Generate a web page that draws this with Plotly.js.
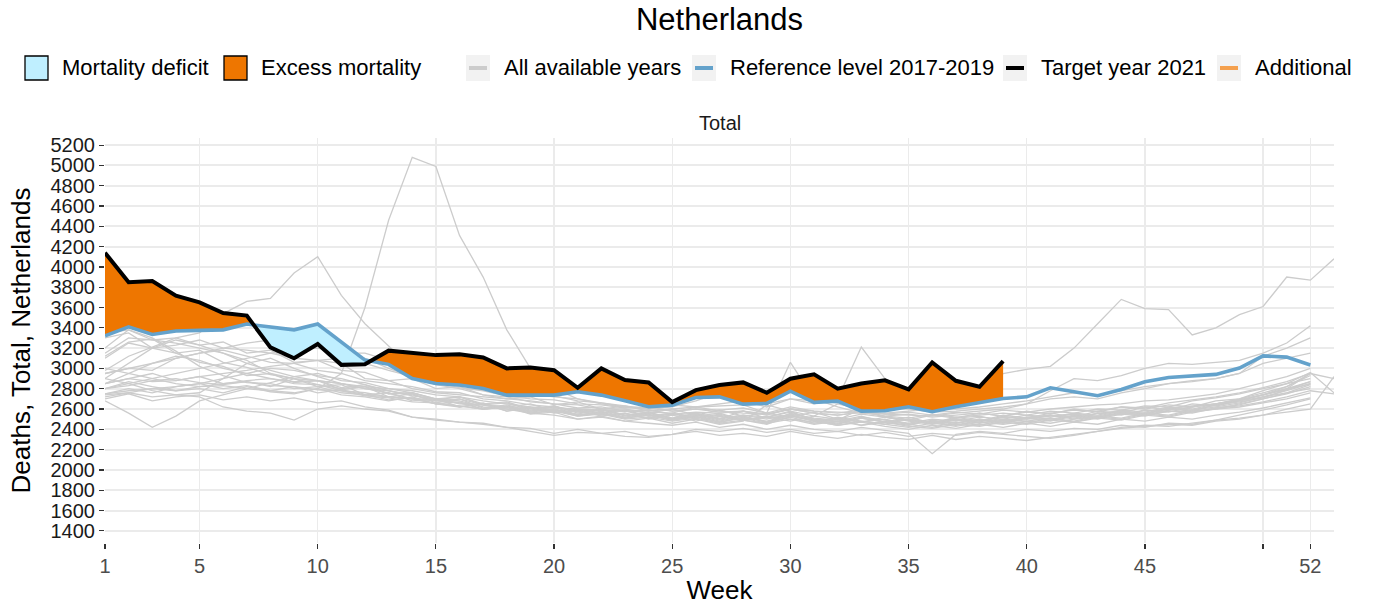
<!DOCTYPE html>
<html>
<head>
<meta charset="utf-8">
<script src="https://cdn.plot.ly/plotly-3.0.1.min.js"></script>
<style>html,body{margin:0;padding:0;background:#fff;}#chart{width:1381px;height:606px;}</style>
</head>
<body>
<div id="chart"></div>
<script>
// ---------------- DATA ----------------
const weeks52 = Array.from({length: 52}, (_, i) => i + 1);
const xTickVals = [1, 5, 10, 15, 20, 25, 30, 35, 40, 45, 50, 52];
const xTickText = ['1', '5', '10', '15', '20', '25', '30', '35', '40', '45', '', '52'];
const yTickVals = [1400,1600,1800,2000,2200,2400,2600,2800,3000,3200,3400,3600,3800,4000,4200,4400,4600,4800,5000,5200];
const yTickText = yTickVals.map(String);

// Target year 2021 (weeks 1-39)
const target2021 = [4140,3850,3860,3716,3650,3545,3520,3207,3100,3240,3035,3040,3175,3157,3131,3140,3108,3000,3010,2983,2809,3000,2885,2862,2668,2786,2836,2862,2760,2898,2941,2800,2852,2882,2793,3059,2878,2819,3072];

// Reference level 2017-2019 (weeks 1-52)
const reference = [3320,3410,3335,3368,3375,3380,3437,3410,3380,3437,3262,3082,3040,2901,2852,2836,2803,2737,2737,2737,2770,2737,2681,2622,2638,2713,2720,2648,2655,2776,2665,2678,2579,2583,2622,2573,2622,2661,2704,2720,2809,2770,2731,2793,2868,2911,2924,2941,3003,3124,3111,3033];

// All available years (grey)
const y1995 = [3120,3260,3290,3150,3180,3060,3010,2940,2900,2880,2810,2840,2750,2760,2690,2720,2640,2660,2590,2630,2560,2600,2540,2570,2500,2530,2560,2490,2520,2570,2500,2480,2530,2470,2500,2460,2520,2480,2540,2510,2560,2520,2580,2560,2620,2590,2650,2630,2680,2720,2760,2840];
const y1996 = [2980,3120,3210,3300,3230,3260,3150,3180,3060,3080,2980,2960,2880,2900,2800,2820,2740,2700,2720,2640,2670,2600,2630,2580,2600,2540,2590,2530,2560,2520,2570,2500,2550,2520,2490,2540,2510,2560,2530,2580,2550,2600,2570,2620,2600,2640,2620,2680,2700,2760,2820,2930];
const y1997 = [3300,3350,3200,3150,3060,3020,2930,2950,2860,2880,2790,2820,2720,2750,2660,2700,2610,2640,2580,2620,2540,2580,2520,2560,2500,2540,2480,2530,2470,2540,2490,2450,2510,2470,2520,2460,2500,2470,2530,2500,2540,2510,2560,2580,2550,2610,2590,2640,2670,2710,2790,2870];
const y1998 = [2800,2870,2820,2780,2800,2760,2820,2770,2750,2800,2740,2720,2680,2720,2650,2620,2660,2580,2610,2590,2550,2600,2530,2570,2510,2560,2500,2540,2520,2480,2530,2500,2470,2520,2490,2460,2510,2530,2480,2520,2540,2500,2560,2540,2590,2570,2620,2650,2700,2780,2850,2960,2760];
const y1999 = [2900,3050,3200,3280,3230,3150,3080,2950,2900,2820,2840,2740,2760,2680,2700,2620,2650,2580,2610,2560,2590,2530,2560,2500,2540,2480,2530,2490,2460,2560,2500,2470,2520,2490,2460,2500,2480,2520,2500,2540,2520,2560,2540,2590,2570,2620,2600,2650,2680,2740,2800,2950];
const y2000 = [3350,3380,3300,3170,3020,2930,2860,2850,2800,2820,2760,2740,2690,2710,2650,2670,2600,2630,2570,2600,2540,2570,2510,2550,2490,2530,2470,2520,2480,2540,2490,2460,2510,2470,2440,2490,2460,2500,2470,2520,2500,2540,2520,2570,2550,2600,2580,2640,2690,2740,2820,2950];
const y2001 = [2750,2800,2760,2820,2850,2800,2830,2780,2820,2760,2790,2740,2720,2700,2680,2700,2640,2620,2650,2580,2600,2560,2590,2530,2560,2510,2550,2490,2530,2500,2470,2520,2480,2450,2500,2470,2440,2490,2460,2510,2480,2530,2500,2550,2530,2580,2560,2610,2640,2700,2760,2800];
const y2002 = [2850,2900,2950,2880,2920,2850,2870,2820,2900,2840,2800,2820,2750,2760,2700,2720,2650,2670,2600,2630,2570,2590,2540,2560,2510,2550,2490,2530,2470,2520,2460,2500,2440,2480,2450,2420,2470,2440,2490,2460,2510,2480,2530,2510,2560,2540,2590,2620,2660,2720,2780,2850];
const y2003 = [2950,3000,2980,3100,3150,3180,3120,3060,3050,2980,2950,2880,2850,2820,2770,2760,2700,2680,2640,2620,2590,2560,2580,2530,2550,2510,2540,2490,2520,2580,2530,2650,2600,2520,2480,2450,2490,2460,2500,2480,2510,2470,2520,2500,2550,2530,2580,2600,2620,2660,2700,2760];
const y2004 = [2700,2750,2680,2720,2740,2690,2720,2680,2710,2660,2680,2620,2590,2520,2490,2470,2460,2420,2410,2360,2400,2360,2380,2330,2350,2380,2340,2360,2330,2380,2340,2310,2350,2320,2300,2340,2300,2330,2310,2290,2320,2350,2380,2410,2430,2450,2440,2480,2500,2540,2570,2600,2920];
const y2005 = [2680,2560,2420,2530,2680,2740,2800,2860,2920,2950,2880,2860,2800,2760,2700,2680,2620,2600,2560,2540,2500,2520,2480,2460,2440,2470,2420,2450,2400,2440,2400,2380,2420,2390,2360,2160,2350,2380,2360,2400,2380,2410,2400,2440,2420,2460,2450,2490,2540,2590,2640,2700];
const y2006 = [2750,2780,2800,2820,2850,2900,2950,3000,2980,2930,2900,2840,2780,2740,2680,2660,2600,2620,2550,2570,2500,2530,2480,2510,2460,2500,2450,2480,2640,2580,2480,2440,2470,2430,2400,2440,2410,2450,2420,2460,2430,2470,2450,2500,2480,2520,2500,2540,2570,2610,2660,2710];
const y2007 = [2900,2850,2780,2740,2720,2620,2580,2560,2490,2600,2630,2600,2580,2520,2500,2470,2450,2420,2380,2340,2370,2360,2330,2320,2350,2400,2380,2410,2370,2400,2360,2380,2340,2370,2330,2360,2340,2370,2350,2330,2310,2340,2380,2420,2440,2430,2460,2490,2510,2540,2600,2650];
const y2008 = [2720,2760,2800,2780,2820,2850,2880,2900,2870,2880,2850,2800,2780,2730,2700,2660,2640,2620,2580,2600,2540,2560,2510,2540,2490,2520,2470,2510,2460,2500,2450,2480,2440,2470,2430,2410,2450,2430,2470,2450,2490,2470,2510,2490,2540,2520,2570,2600,2650,2700,2750,2820];
const y2009 = [2850,2950,3050,3120,3080,3000,2950,2900,2850,2840,2780,2760,2720,2700,2650,2630,2600,2620,2560,2580,2530,2550,2500,2520,2480,2510,2460,2490,2450,2530,2480,2440,2480,2450,2420,2460,2430,2470,2450,2480,2460,2500,2520,2560,2540,2580,2570,2610,2630,2670,2720,2780,2750];
const y2010 = [2800,2830,2880,2900,2860,2840,2870,2830,2820,2790,2780,2730,2710,2670,2660,2630,2600,2620,2560,2590,2530,2560,2510,2540,2490,2550,2500,2580,2510,2540,2480,2510,2470,2500,2450,2480,2460,2500,2470,2510,2490,2530,2510,2560,2540,2590,2620,2650,2690,2740,2800,2870];
const y2012 = [2740,2760,2720,2740,2760,2900,3050,3100,3000,2920,2850,2800,2760,2700,2700,2650,2640,2600,2620,2570,2580,2540,2560,2510,2540,2560,2510,2540,2500,2550,2510,2490,2600,2520,2490,2470,2500,2480,2520,2500,2530,2550,2530,2580,2560,2610,2630,2650,2690,2740,2790,2850];
const y2013 = [2800,2850,2900,2950,3000,3050,3100,3150,3180,3200,3150,3150,3080,3050,2960,2920,2840,2800,2740,2730,2680,2660,2620,2610,2580,2600,2570,2580,2550,2600,2560,2540,2570,2530,2510,2550,2520,2540,2560,2540,2580,2560,2600,2590,2630,2620,2680,2710,2750,2800,2850,2900];
const y2015 = [2950,3000,3050,3100,3150,3200,3250,3280,3300,3250,3180,3100,3000,2920,2840,2800,2740,2720,2670,2650,2610,2620,2580,2590,2550,2570,2560,2580,2540,2600,2560,2540,2570,2530,2550,2520,2540,2560,2530,2570,2560,2590,2580,2620,2610,2660,2690,2720,2760,2810,2870,2950,2900];
const y2016 = [2850,2900,2870,2880,2920,2950,2980,3020,3050,3080,3100,3050,2980,2920,2860,2810,2780,2730,2700,2690,2650,2640,2610,2620,2580,2600,2590,2610,2560,2620,2580,2560,2590,2550,2570,2540,2570,2550,2590,2570,2600,2620,2640,2650,2680,2690,2720,2750,2800,2860,2920,3000];
const y2017 = [3200,3380,3280,3250,3200,3150,3050,2980,2920,2880,2850,2820,2800,2780,2740,2720,2680,2650,2620,2610,2600,2590,2580,2570,2560,2620,2580,2560,2550,2600,2580,2570,2560,2550,2540,2530,2560,2580,2600,2650,2780,2900,2880,2930,3000,3050,3040,3060,3080,3150,3250,3420];
const y2018 = [3150,3300,3280,3300,3350,3540,3660,3690,3940,4100,3720,3440,3220,3000,2900,2850,2820,2770,2750,2720,2700,2660,2630,2600,2620,2680,2760,2700,2650,2700,2680,2660,2630,2620,2600,2570,2580,2600,2620,2650,2700,2720,2700,2760,2800,2850,2880,2900,2950,3120,3200,3300];
const y2019 = [3100,3250,3200,3230,3280,3200,3180,3150,3100,3080,3050,2900,2880,2800,2760,2740,2720,2700,2680,2650,2640,2600,2600,2560,2600,2620,2630,2640,2560,3060,2700,2620,2560,2560,2580,2600,2600,2620,2650,2680,2720,2760,2740,2780,2820,2850,2870,2900,2950,3050,3100,3150];
const y2020 = [3000,2950,2900,2850,2820,2830,2800,2780,2760,2800,2950,3600,4460,5080,4990,4310,3900,3380,3000,2800,2700,2650,2620,2600,2640,2620,2650,2680,2620,2700,2650,2700,3210,2900,2700,2640,2650,2750,2950,2990,3020,3200,3440,3680,3590,3580,3330,3400,3530,3610,3900,3870,4080];

const greyYears = [y1995,y1996,y1997,y1998,y1999,y2000,y2001,y2002,y2003,y2004,y2005,y2006,y2007,y2008,y2009,y2010,y2012,y2013,y2015,y2016,y2017,y2018,y2019,y2020];

// ---------------- STYLE ----------------
const FONT = 'Liberation Sans, Arial, Helvetica, sans-serif';
const COL_GREY = '#CCCCCC';
const COL_REF = '#64A2CB';
const COL_TARGET = '#000000';
const COL_EXCESS = '#EE7600';
const COL_DEFICIT = '#BFEFFF';
const COL_ADD = '#F4A04E';

// ---------------- TRACES ----------------
const traces = [];
greyYears.forEach(arr => {
  traces.push({
    type: 'scatter', mode: 'lines',
    x: arr.map((_, i) => i + 1), y: arr,
    line: {color: COL_GREY, width: 1.3},
    hoverinfo: 'skip', showlegend: false
  });
});

// fill polygons between target and reference, with crossing points inserted
const pts = [];
for (let i = 0; i < target2021.length; i++) {
  pts.push({x: i + 1, b: target2021[i], r: reference[i]});
  if (i < target2021.length - 1) {
    const d0 = target2021[i] - reference[i];
    const d1 = target2021[i + 1] - reference[i + 1];
    if (d0 * d1 < 0) {
      const t = d0 / (d0 - d1);
      const v = target2021[i] + t * (target2021[i + 1] - target2021[i]);
      pts.push({x: i + 1 + t, b: v, r: v});
    }
  }
}
const px = pts.map(p => p.x);
const pxRev = px.slice().reverse();
traces.push({
  type: 'scatter', mode: 'lines', fill: 'toself', fillcolor: COL_EXCESS,
  x: px.concat(pxRev),
  y: pts.map(p => Math.max(p.b, p.r)).concat(pts.map(p => p.r).reverse()),
  line: {width: 0, color: COL_EXCESS}, hoverinfo: 'skip', showlegend: false
});
traces.push({
  type: 'scatter', mode: 'lines', fill: 'toself', fillcolor: COL_DEFICIT,
  x: px.concat(pxRev),
  y: pts.map(p => p.r).concat(pts.map(p => Math.min(p.b, p.r)).reverse()),
  line: {width: 0, color: COL_DEFICIT}, hoverinfo: 'skip', showlegend: false
});
traces.push({
  type: 'scatter', mode: 'lines', x: weeks52, y: reference,
  line: {color: COL_REF, width: 3.6}, name: 'Reference level 2017-2019', showlegend: false
});
traces.push({
  type: 'scatter', mode: 'lines', x: target2021.map((_, i) => i + 1), y: target2021,
  line: {color: COL_TARGET, width: 4}, name: 'Target year 2021', showlegend: false
});

// ---------------- LAYOUT ----------------
const W = 1381, H = 606;
const M = {l: 105, r: 47, t: 138, b: 63};
const pw = W - M.l - M.r, ph = H - M.t - M.b;
const PX = x => (x - M.l) / pw;
const PY = y => (H - M.b - y) / ph;

const shapes = [];
const annotations = [];
const legendY = 68;
function fillKey(x, col) {
  shapes.push({type: 'rect', xref: 'paper', yref: 'paper', x0: PX(x), x1: PX(x + 23), y0: PY(80), y1: PY(56),
    fillcolor: col, line: {color: '#000', width: 1.3}});
}
function lineKey(x, col) {
  shapes.push({type: 'rect', xref: 'paper', yref: 'paper', x0: PX(x), x1: PX(x + 24), y0: PY(81), y1: PY(55),
    fillcolor: '#F2F2F2', line: {width: 0}});
  shapes.push({type: 'line', xref: 'paper', yref: 'paper', x0: PX(x + 3), x1: PX(x + 21), y0: PY(legendY), y1: PY(legendY),
    line: {color: col, width: 4}});
}
function legText(x, txt) {
  annotations.push({xref: 'paper', yref: 'paper', x: PX(x), y: PY(legendY), xanchor: 'left', yanchor: 'middle',
    text: txt, showarrow: false, font: {family: FONT, size: 22, color: '#000'}});
}
fillKey(25, COL_DEFICIT); legText(60, 'Mortality deficit');
fillKey(224, COL_EXCESS); legText(259, 'Excess mortality');
lineKey(466, COL_GREY); legText(502, 'All available years');
lineKey(692, COL_REF); legText(728, 'Reference level 2017-2019');
lineKey(1003, COL_TARGET); legText(1039, 'Target year 2021');
lineKey(1217, COL_ADD); legText(1253, 'Additional');

annotations.push({xref: 'paper', yref: 'paper', x: 0.5, y: PY(123), xanchor: 'center', yanchor: 'middle',
  text: 'Total', showarrow: false, font: {family: FONT, size: 20, color: '#1A1A1A'}});

const layout = {
  width: W, height: H,
  margin: M,
  paper_bgcolor: '#FFFFFF', plot_bgcolor: '#FFFFFF',
  font: {family: FONT, color: '#000'},
  showlegend: false,
  title: {text: 'Netherlands', x: 0.5, xref: 'paper', y: 1 - 19 / H, yref: 'container', yanchor: 'middle',
    font: {family: FONT, size: 31, color: '#000'}},
  xaxis: {
    range: [1, 53], tickmode: 'array', tickvals: xTickVals, ticktext: xTickText,
    showgrid: true, gridcolor: '#EBEBEB', gridwidth: 1.3, zeroline: false, showline: false,
    ticks: 'outside', ticklen: 5, tickwidth: 1.2, tickcolor: '#333333',
    tickfont: {family: FONT, size: 20, color: '#4D4D4D'},
    title: {text: 'Week', font: {family: FONT, size: 26, color: '#000'}, standoff: 4}
  },
  yaxis: {
    range: [1280, 5270], tickmode: 'array', tickvals: yTickVals, ticktext: yTickText,
    showgrid: true, gridcolor: '#EBEBEB', gridwidth: 2, zeroline: false, showline: false,
    ticks: 'outside', ticklen: 5, tickwidth: 1.2, tickcolor: '#333333',
    tickfont: {family: FONT, size: 20, color: '#1A1A1A'},
    title: {text: 'Deaths, Total, Netherlands', font: {family: FONT, size: 26, color: '#000'}, standoff: 12}
  },
  shapes: shapes,
  annotations: annotations
};

Plotly.newPlot('chart', traces, layout, {displayModeBar: false, staticPlot: true});
</script>
</body>
</html>
